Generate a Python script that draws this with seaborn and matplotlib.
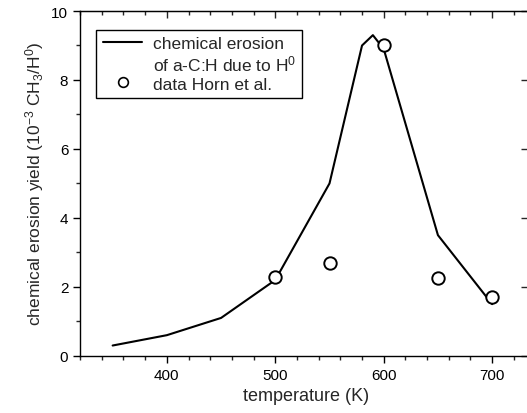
import matplotlib.pyplot as plt
import pandas as pd
import seaborn as sns
from matplotlib.lines import Line2D

# model curve: chemical erosion of a-C:H due to H0
model_temperature = [350, 400, 450, 500, 550, 580, 590, 600, 650, 700]
model_yield = [0.3, 0.6, 1.1, 2.2, 5.0, 9.0, 9.3, 8.9, 3.5, 1.5]

# measured data, Horn et al.
horn_temperature = [500, 550, 600, 650, 700]
horn_yield = [2.3, 2.7, 9.0, 2.25, 1.7]

sns.set_style('ticks')
plt.rcParams['font.family'] = ['Liberation Sans', 'DejaVu Sans']
plt.rcParams['mathtext.fontset'] = 'custom'
plt.rcParams['mathtext.rm'] = 'Liberation Sans'
plt.rcParams['mathtext.it'] = 'Liberation Sans'

model = pd.DataFrame({'temperature': model_temperature, 'yield': model_yield})
horn = pd.DataFrame({'temperature': horn_temperature, 'yield': horn_yield})

fig = plt.figure(figsize=(5.27, 4.14), dpi=100)
# right spine lies just outside the picture, as in the cropped original
ax = fig.add_axes([0.152, 0.138, 0.858, 0.833])

sns.lineplot(data=model, x='temperature', y='yield', ax=ax, color='black', linewidth=1.5,
             legend=False)
sns.scatterplot(data=horn, x='temperature', y='yield', ax=ax, marker='o', s=80,
                facecolor='white', edgecolor='black', linewidth=1.4, zorder=3,
                legend=False)

ax.set_xlim(320, 737)
ax.set_ylim(0, 10)
ax.set_xticks([400, 500, 600, 700])
ax.set_xticks(range(320, 740, 20), minor=True)
ax.set_yticks([0, 2, 4, 6, 8, 10])
ax.set_yticks([1, 3, 5, 7, 9], minor=True)

for side in ['top', 'right', 'left', 'bottom']:
    ax.spines[side].set_visible(True)
    ax.spines[side].set_color('black')
    ax.spines[side].set_linewidth(1.0)

ax.tick_params(axis='both', which='major', direction='out', length=5, width=1, labelsize=11,
               colors='black')
ax.tick_params(axis='both', which='minor', direction='out', length=3, width=1)

# top ticks point inward, right ticks (major only) point inward
secx = ax.secondary_xaxis('top')
secx.set_xticks([400, 500, 600, 700])
secx.set_xticks(range(320, 740, 20), minor=True)
secx.tick_params(which='major', direction='in', length=5, width=1)
secx.tick_params(which='minor', direction='in', length=3, width=1)
secx.set_xticklabels([])

secy = ax.secondary_yaxis('right')
secy.set_yticks([0, 2, 4, 6, 8, 10])
secy.tick_params(which='major', direction='in', length=8, width=1)
secy.set_yticklabels([])

ax.set_xlabel('temperature (K)', fontsize=13)
ax.set_ylabel('chemical erosion yield (10$^{-3}$ CH$_3$/H$^0$)', fontsize=12.5)

handles = [
    Line2D([], [], color='black', linewidth=1.5),
    Line2D([], [], linestyle='none'),
    Line2D([], [], linestyle='none', marker='o', markersize=7, markerfacecolor='white',
           markeredgecolor='black', markeredgewidth=1.2),
]
labels = ['chemical erosion', 'of a-C:H due to H$^0$', 'data Horn et al.']
leg = ax.legend(handles, labels, loc='upper left', bbox_to_anchor=(0.017, 0.97), fontsize=12.5,
                frameon=True, fancybox=False, edgecolor='black', handlelength=2.3,
                labelspacing=0.15, borderpad=0.35, handletextpad=0.6, framealpha=1)
leg.get_frame().set_linewidth(1.0)

fig.savefig('out.png', dpi=100)
